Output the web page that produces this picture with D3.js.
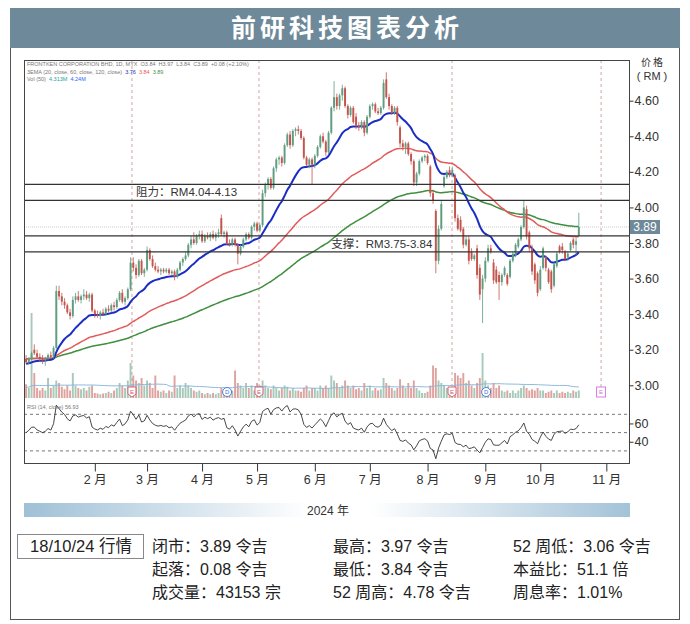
<!DOCTYPE html>
<html>
<head>
<meta charset="utf-8">
<style>
  body { margin: 0; background: #fff; }
  svg text { font-family: "Liberation Sans", "Noto Sans CJK SC", sans-serif; }
</style>
</head>
<body>
<div id="chart"></div>
<script src="https://cdn.jsdelivr.net/npm/d3@7"></script>
<script>
// daily bars, [open, high, low, close]
const candles = [
  [3.15,3.17,3.12,3.13],[3.13,3.16,3.12,3.15],[3.15,3.19,3.14,3.18],[3.20,3.23,3.17,3.18],[3.18,3.20,3.15,3.16],
  [3.16,3.18,3.13,3.15],[3.15,3.17,3.12,3.14],[3.14,3.16,3.11,3.15],[3.15,3.18,3.14,3.17],[3.17,3.19,3.15,3.16],
  [3.16,3.22,3.15,3.21],[3.21,3.56,3.20,3.53],[3.53,3.56,3.48,3.50],[3.50,3.52,3.45,3.47],[3.47,3.49,3.43,3.45],
  [3.45,3.46,3.40,3.41],[3.41,3.43,3.37,3.39],[3.39,3.50,3.38,3.48],[3.48,3.52,3.46,3.50],[3.50,3.53,3.47,3.48],
  [3.48,3.51,3.46,3.50],[3.50,3.54,3.48,3.51],[3.51,3.53,3.48,3.49],[3.49,3.52,3.47,3.51],[3.51,3.52,3.41,3.42],
  [3.42,3.43,3.38,3.40],[3.40,3.42,3.38,3.39],[3.39,3.42,3.37,3.41],[3.41,3.43,3.39,3.40],[3.40,3.44,3.39,3.43],
  [3.43,3.45,3.41,3.42],[3.42,3.46,3.41,3.45],[3.45,3.47,3.42,3.44],[3.44,3.49,3.43,3.48],[3.48,3.53,3.47,3.52],
  [3.52,3.54,3.46,3.47],[3.47,3.50,3.45,3.49],[3.49,3.55,3.48,3.54],[3.54,3.72,3.53,3.69],[3.69,3.72,3.64,3.66],
  [3.66,3.68,3.60,3.62],[3.62,3.71,3.61,3.70],[3.70,3.71,3.62,3.63],[3.63,3.66,3.61,3.65],[3.65,3.78,3.64,3.76],
  [3.76,3.77,3.70,3.71],[3.71,3.73,3.66,3.67],[3.67,3.69,3.64,3.65],[3.65,3.67,3.63,3.64],[3.64,3.66,3.62,3.65],
  [3.65,3.66,3.63,3.64],[3.64,3.66,3.63,3.65],[3.65,3.66,3.62,3.63],[3.63,3.65,3.62,3.64],[3.64,3.65,3.59,3.61],
  [3.61,3.66,3.60,3.65],[3.65,3.70,3.64,3.69],[3.69,3.72,3.67,3.71],[3.71,3.75,3.70,3.73],[3.73,3.80,3.72,3.79],
  [3.79,3.84,3.77,3.82],[3.82,3.86,3.79,3.80],[3.80,3.85,3.79,3.84],[3.84,3.87,3.82,3.85],[3.85,3.87,3.80,3.81],
  [3.81,3.85,3.80,3.84],[3.84,3.86,3.82,3.83],[3.83,3.86,3.81,3.85],[3.85,3.87,3.82,3.83],[3.83,3.86,3.81,3.85],
  [3.85,3.88,3.83,3.86],[3.94,3.96,3.84,3.85],[3.85,3.87,3.83,3.86],[3.86,3.87,3.79,3.80],[3.80,3.82,3.78,3.79],
  [3.79,3.83,3.78,3.82],[3.82,3.83,3.78,3.79],[3.79,3.80,3.68,3.74],[3.74,3.79,3.73,3.78],[3.78,3.83,3.77,3.82],
  [3.82,3.86,3.81,3.85],[3.85,3.86,3.82,3.83],[3.83,3.90,3.82,3.89],[3.89,3.92,3.87,3.91],[3.91,3.92,3.86,3.87],
  [3.87,3.91,3.86,3.90],[3.90,4.10,3.89,4.08],[4.08,4.14,4.06,4.13],[4.13,4.17,4.10,4.16],[4.16,4.17,4.10,4.11],
  [4.11,4.23,4.10,4.22],[4.22,4.28,4.20,4.27],[4.27,4.29,4.24,4.28],[4.28,4.29,4.23,4.25],[4.25,4.36,4.24,4.35],
  [4.35,4.42,4.34,4.41],[4.41,4.43,4.33,4.35],[4.35,4.44,4.34,4.43],[4.43,4.45,4.40,4.44],[4.44,4.46,4.41,4.43],
  [4.43,4.44,4.38,4.39],[4.39,4.40,4.27,4.28],[4.28,4.29,4.23,4.24],[4.24,4.28,4.22,4.27],[4.27,4.28,4.13,4.24],
  [4.24,4.30,4.22,4.29],[4.29,4.35,4.28,4.34],[4.34,4.41,4.33,4.40],[4.40,4.42,4.36,4.37],[4.37,4.38,4.29,4.31],
  [4.31,4.43,4.30,4.42],[4.42,4.57,4.41,4.56],[4.56,4.71,4.54,4.62],[4.62,4.64,4.55,4.57],[4.57,4.64,4.55,4.63],
  [4.63,4.69,4.60,4.67],[4.67,4.68,4.56,4.57],[4.57,4.58,4.50,4.52],[4.52,4.57,4.51,4.56],[4.56,4.57,4.47,4.48],
  [4.51,4.53,4.44,4.46],[4.46,4.48,4.43,4.45],[4.45,4.49,4.44,4.48],[4.48,4.49,4.40,4.42],[4.42,4.52,4.41,4.51],
  [4.51,4.58,4.50,4.57],[4.57,4.59,4.55,4.58],[4.58,4.59,4.53,4.54],[4.54,4.56,4.52,4.53],[4.53,4.57,4.52,4.56],
  [4.56,4.72,4.55,4.70],[4.72,4.76,4.61,4.62],[4.62,4.64,4.55,4.57],[4.57,4.58,4.52,4.53],[4.53,4.57,4.52,4.56],
  [4.56,4.57,4.46,4.48],[4.45,4.46,4.34,4.36],[4.36,4.38,4.32,4.34],[4.34,4.37,4.30,4.36],[4.36,4.37,4.29,4.30],
  [4.30,4.31,4.24,4.26],[4.26,4.27,4.12,4.14],[4.14,4.20,4.12,4.19],[4.19,4.27,4.18,4.26],[4.26,4.29,4.25,4.28],
  [4.28,4.30,4.26,4.29],[4.29,4.30,4.24,4.25],[4.23,4.24,4.06,4.08],[4.08,4.10,4.02,4.04],[3.98,3.99,3.63,3.70],
  [3.70,3.90,3.68,3.88],[3.88,4.04,3.87,4.02],[4.12,4.18,4.11,4.17],[4.17,4.21,4.16,4.20],[4.21,4.23,4.17,4.18],
  [4.18,4.23,4.17,4.21],[4.18,4.19,3.92,3.94],[3.94,3.96,3.87,3.88],[3.93,3.95,3.86,3.87],[3.88,3.89,3.77,3.79],
  [3.79,3.84,3.78,3.82],[3.82,3.84,3.68,3.70],[3.75,3.77,3.70,3.71],[3.71,3.74,3.70,3.73],[3.77,3.79,3.60,3.62],
  [3.66,3.68,3.48,3.51],[3.54,3.62,3.35,3.60],[3.60,3.72,3.58,3.70],[3.70,3.79,3.69,3.77],[3.77,3.79,3.74,3.75],
  [3.69,3.71,3.57,3.59],[3.65,3.67,3.57,3.58],[3.62,3.64,3.48,3.58],[3.58,3.63,3.56,3.62],[3.62,3.67,3.61,3.66],
  [3.62,3.63,3.56,3.57],[3.61,3.71,3.60,3.70],[3.70,3.75,3.69,3.74],[3.73,3.80,3.72,3.79],[3.78,3.83,3.77,3.82],
  [3.82,3.90,3.81,3.89],[3.89,4.04,3.88,4.00],[3.99,4.01,3.82,3.84],[3.86,3.87,3.75,3.77],[3.77,3.79,3.62,3.64],
  [3.68,3.69,3.57,3.59],[3.63,3.64,3.50,3.52],[3.54,3.67,3.53,3.65],[3.66,3.78,3.65,3.77],[3.72,3.73,3.64,3.66],
  [3.65,3.66,3.57,3.58],[3.64,3.65,3.52,3.54],[3.56,3.69,3.55,3.68],[3.67,3.75,3.66,3.74],[3.78,3.79,3.74,3.75],
  [3.78,3.80,3.74,3.76],[3.75,3.76,3.70,3.71],[3.72,3.75,3.70,3.74],[3.76,3.81,3.75,3.80],[3.82,3.83,3.77,3.79],
  [3.79,3.83,3.73,3.81],[3.84,3.97,3.84,3.89]
]

// volume in millions of shares
const volumes = [
  5.5,4,34,10,4,3,4,3,8,4, 5,7,6,4.5,3.5,5,3,10,5,4, 3.5,4,3,4.5,5,2,1.8,1.5,1.8,2,
  2.5,2,3,4,6,5,4,7,14,9, 7,6,8,5,7,6,4,9,3,2.5, 3,2,3,2.5,9,4,5,4,6,5,
  4,3,2.5,3,2,1.5,2,1.5,2,1.5, 2,4,2,3,3.5,3,11,6,5,4, 6,4,5,3,6,5,7,5,4,3.5,
  5,4,3,4,5,4.5,3,4,3,3, 2.5,4,5,3,4,4,3,5,4,5, 4,9,7,6,4,5,7,5,4,5,
  3.5,4,3,6,4,5,3,4,3,3.5, 8,6,5,4,3,4,7.5,5,4,6, 4,7,4,3,2,2,2.5,5,13,12,
  7,6,5,4,3,4,10,9,8,10, 6,7,5,4,6,8,18,7,5,4, 6,4,5,3,2.5,3,2,3,2,3,
  4,5,4,3,3.5,3,4,3,3,2, 2.5,3,2,3,2,2.5,2,2.5,2,3, 2.5,3
]
// average daily volume before the first bar, used to fill the 50-day window
const volSeed = 4.3

// bar index of each month's first session
const monthStarts = [25, 44, 64, 84, 105, 125, 146, 167, 187, 211]
const monthLabels = ['2 月', '3 月', '4 月', '5 月', '6 月', '7 月', '8 月', '9 月', '10 月', '11 月']
const priceTicks = [3.0, 3.2, 3.4, 3.6, 3.8, 4.0, 4.2, 4.4, 4.6]
const rsiTicks = [40, 60]
const rsiBands = [30, 50, 70]
const earningsBars = [38.5, 84.7, 154.9]
const futureEarningsBar = 209.1
const dividendBars = [73.1, 167.3]
const lastPrice = 3.89

const zones = [
  { label: '阻力：RM4.04-4.13', lo: 4.04, hi: 4.13, at: 40 },
  { label: '支撑：RM3.75-3.84', lo: 3.75, hi: 3.84, at: 111 }
]

const emaPeriods = [20, 60, 120]
const emaSeeds = [3.12, 3.15, 3.15]
const emaColors = ['#1b2ec4', '#e25b5b', '#3f8f3f']

const legendLines = [
  [{ t: 'FRONTKEN CORPORATION BHD, 1D, MYX  O3.84  H3.97  L3.84  C3.89  +0.08 (+2.10%)', c: '#777' }],
  [{ t: '3EMA (20, close, 60, close, 120, close)  ', c: '#777' }, { t: '3.76  ', c: '#1b2ec4' },
   { t: '3.84  ', c: '#e25b5b' }, { t: '3.89', c: '#3f8f3f' }],
  [{ t: 'Vol (50)  ', c: '#777' }, { t: '4.313M  ', c: '#26a69a' }, { t: '4.24M', c: '#2962ff' }]
]
const rsiLegend = 'RSI (14, close)  56.93'

const statsDate = '18/10/24 行情'
const statsCols = [
  ['闭市：3.89 令吉', '起落：0.08 令吉', '成交量：43153 宗'],
  ['最高：3.97 令吉', '最低：3.84 令吉', '52 周高：4.78 令吉'],
  ['52 周低：3.06 令吉', '本益比：51.1 倍', '周息率：1.01%']
]

const width = 690
const height = 624
const plot = { left: 24, right: 629, top: 60, bottom: 463 }
const up = '#5e9d80'
const down = '#c4554e'

const svg = d3
  .select('#chart')
  .append('svg')
  .attr('width', width)
  .attr('height', height)

// outer frame and title bar
svg.append('rect')
  .attr('x', 10.5).attr('y', 8.5).attr('width', 669).attr('height', 611)
  .attr('fill', '#fff').attr('stroke', '#555')
svg.append('rect')
  .attr('x', 10).attr('y', 8).attr('width', 670).attr('height', 40)
  .attr('fill', '#6e8999')
svg.append('text')
  .attr('x', 347).attr('y', 37)
  .attr('text-anchor', 'middle')
  .attr('fill', '#fff')
  .attr('font-size', 25)
  .attr('font-weight', 700)
  .attr('letter-spacing', 4)
  .style('font-family', '"Noto Sans CJK SC", sans-serif')
  .text('前研科技图表分析')

// scales
const xScale = d3.scaleLinear().domain([-0.75, 219.25]).range([plot.left, plot.right])
const yScale = d3.scaleLinear().domain([3.0, 4.6]).range([385.3, 100.7])
const volScale = d3.scaleLinear().domain([0, 10]).range([398, 373])
const rsiScale = d3.scaleLinear().domain([50, 70]).range([432.6, 414.3])
const step = xScale(1) - xScale(0)

const defs = svg.append('defs')
defs.append('clipPath').attr('id', 'clip-price')
  .append('rect').attr('x', plot.left).attr('y', plot.top)
  .attr('width', plot.right - plot.left).attr('height', 340)
defs.append('clipPath').attr('id', 'clip-rsi')
  .append('rect').attr('x', plot.left).attr('y', 402)
  .attr('width', plot.right - plot.left).attr('height', plot.bottom - 402)

const bars = candles.map((d, i) => ({ i, o: d[0], h: d[1], l: d[2], c: d[3], v: volumes[i] }))

// indicators from the closes
const emas = emaPeriods.map((p, k) => {
  const a = 2 / (p + 1)
  let e = emaSeeds[k]
  return bars.map(b => (e = e + a * (b.c - e)))
})
const volMa = bars.map((b, i) => {
  const win = volumes.slice(Math.max(0, i - 49), i + 1)
  return (d3.sum(win) + volSeed * (50 - win.length)) / 50
})
let avgGain = 0.015
let avgLoss = 0.015
const rsi = bars.map((b, i) => {
  if (i > 0) {
    const ch = b.c - bars[i - 1].c
    avgGain = (avgGain * 13 + Math.max(ch, 0)) / 14
    avgLoss = (avgLoss * 13 + Math.max(-ch, 0)) / 14
  }
  return 100 - 100 / (1 + avgGain / avgLoss)
})

const price = svg.append('g').attr('clip-path', 'url(#clip-price)')

// last price line
price.append('line')
  .attr('x1', plot.left).attr('x2', plot.right)
  .attr('y1', yScale(lastPrice)).attr('y2', yScale(lastPrice))
  .attr('stroke', '#ccc').attr('stroke-dasharray', '1,1')

// earnings dashed lines
earningsBars.concat([futureEarningsBar]).forEach(b => {
  price.append('line')
    .attr('x1', xScale(b)).attr('x2', xScale(b))
    .attr('y1', plot.top).attr('y2', 387)
    .attr('stroke', '#d9a3a3').attr('stroke-dasharray', '3,3')
})

// volume
price.selectAll('.vol')
  .data(bars)
  .enter()
  .append('rect')
  .attr('class', 'vol')
  .attr('x', d => xScale(d.i) - step * 0.35)
  .attr('width', step * 0.7)
  .attr('y', d => volScale(d.v))
  .attr('height', d => volScale(0) - volScale(d.v))
  .attr('fill', d => (d.c >= d.o ? up : down))
  .attr('opacity', 0.55)

price.append('path')
  .datum(volMa)
  .attr('fill', 'none')
  .attr('stroke', '#8fb9dc')
  .attr('stroke-width', 1)
  .attr('d', d3.line().x((d, i) => xScale(i)).y(d => volScale(d)))

// EMAs under the candles
emas.slice().reverse().forEach((series, k) => {
  const idx = emas.length - 1 - k
  price.append('path')
    .datum(series)
    .attr('fill', 'none')
    .attr('stroke', emaColors[idx])
    .attr('stroke-width', idx === 0 ? 2 : 1.5)
    .attr('d', d3.line().curve(d3.curveMonotoneX).x((d, i) => xScale(i)).y(d => yScale(d)))
})

// candles
const candle = price.selectAll('.candle')
  .data(bars)
  .enter()
  .append('g')
  .attr('class', 'candle')
candle.append('line')
  .attr('x1', d => xScale(d.i)).attr('x2', d => xScale(d.i))
  .attr('y1', d => yScale(d.h)).attr('y2', d => yScale(d.l))
  .attr('stroke', d => (d.c >= d.o ? up : down))
  .attr('stroke-width', 0.8)
candle.append('rect')
  .attr('x', d => xScale(d.i) - step * 0.35)
  .attr('width', step * 0.7)
  .attr('y', d => yScale(Math.max(d.o, d.c)))
  .attr('height', d => Math.max(1, Math.abs(yScale(d.o) - yScale(d.c))))
  .attr('fill', d => (d.c >= d.o ? up : down))

// support / resistance zones
zones.forEach(z => {
  [z.lo, z.hi].forEach(v => {
    svg.append('line')
      .attr('x1', plot.left).attr('x2', plot.right)
      .attr('y1', yScale(v)).attr('y2', yScale(v))
      .attr('stroke', '#333').attr('stroke-width', 1.3)
  })
  svg.append('text')
    .attr('x', xScale(z.at))
    .attr('y', (yScale(z.lo) + yScale(z.hi)) / 2 + 4)
    .attr('font-size', 11.5)
    .attr('fill', '#333')
    .text(z.label)
})

// event markers
earningsBars.forEach(b => {
  const g = svg.append('g').attr('transform', 'translate(' + xScale(b) + ',392)')
  g.append('path')
    .attr('d', 'M-4,-5 H4 V2 L0,5 L-4,2 Z')
    .attr('fill', '#fff').attr('stroke', '#d0566b').attr('stroke-width', 0.9)
  g.append('text').attr('y', 2).attr('text-anchor', 'middle')
    .attr('font-size', 6).attr('fill', '#d0566b').text('E')
})
dividendBars.forEach(b => {
  const g = svg.append('g').attr('transform', 'translate(' + xScale(b) + ',392)')
  g.append('circle').attr('r', 4.5)
    .attr('fill', '#fff').attr('stroke', '#3d6fd6').attr('stroke-width', 0.9)
  g.append('text').attr('y', 2).attr('text-anchor', 'middle')
    .attr('font-size', 6).attr('fill', '#3d6fd6').text('D')
})
{
  const g = svg.append('g').attr('transform', 'translate(' + xScale(futureEarningsBar) + ',392)')
  g.append('rect').attr('x', -4.5).attr('y', -5).attr('width', 9).attr('height', 10)
    .attr('fill', '#fff').attr('stroke', '#d36fd6').attr('stroke-width', 0.9)
  g.append('text').attr('y', 2).attr('text-anchor', 'middle')
    .attr('font-size', 6).attr('fill', '#d36fd6').text('E')
}

// RSI pane
const rsiG = svg.append('g')
rsiBands.forEach(v => {
  rsiG.append('line')
    .attr('x1', plot.left).attr('x2', plot.right)
    .attr('y1', rsiScale(v)).attr('y2', rsiScale(v))
    .attr('stroke', '#777').attr('stroke-dasharray', '3,3')
})
rsiG.append('path')
  .datum(rsi)
  .attr('clip-path', 'url(#clip-rsi)')
  .attr('fill', 'none')
  .attr('stroke', '#333')
  .attr('stroke-width', 0.9)
  .attr('d', d3.line().x((d, i) => xScale(i)).y(d => rsiScale(d)))
rsiG.append('text')
  .attr('x', plot.left + 3).attr('y', 409)
  .attr('font-size', 5.5).attr('fill', '#777')
  .text(rsiLegend)

// legend
legendLines.forEach((parts, k) => {
  const t = svg.append('text')
    .attr('x', plot.left + 3).attr('y', 66 + k * 7.5)
    .attr('font-size', 5.5)
    .attr('xml:space', 'preserve')
  parts.forEach(p => t.append('tspan').attr('fill', p.c).text(p.t))
})

// plot frame
svg.append('rect')
  .attr('x', plot.left + 0.5).attr('y', plot.top + 0.5)
  .attr('width', plot.right - plot.left).attr('height', plot.bottom - plot.top)
  .attr('fill', 'none').attr('stroke', '#444')

// axes
const yAxis = d3.axisRight(yScale).tickValues(priceTicks).tickFormat(d3.format('.2f')).tickSize(4).tickPadding(1)
svg.append('g')
  .attr('class', 'axis y-axis')
  .attr('transform', 'translate(' + (plot.right + 0.5) + ',0)')
  .call(yAxis)

const rsiAxis = d3.axisRight(rsiScale).tickValues(rsiTicks).tickSize(4).tickPadding(1)
svg.append('g')
  .attr('class', 'axis rsi-axis')
  .attr('transform', 'translate(' + (plot.right + 0.5) + ',0)')
  .call(rsiAxis)

const xAxis = d3.axisBottom(xScale).tickValues(monthStarts).tickFormat((d, i) => monthLabels[i]).tickSize(8).tickPadding(4)
svg.append('g')
  .attr('class', 'axis x-axis')
  .attr('transform', 'translate(0,' + (plot.bottom + 0.5) + ')')
  .call(xAxis)

svg.selectAll('.axis .domain').remove()
svg.selectAll('.axis line').attr('stroke', '#333')
svg.selectAll('.axis text')
  .attr('fill', '#333')
  .attr('font-size', 12.5)
  .style('font-family', '"Liberation Sans", "Noto Sans CJK SC", sans-serif')

// last price tag
svg.append('rect')
  .attr('x', 630).attr('y', yScale(lastPrice) - 7)
  .attr('width', 30).attr('height', 14)
  .attr('fill', '#6e8999')
svg.append('text')
  .attr('x', 645).attr('y', yScale(lastPrice) + 4.5)
  .attr('text-anchor', 'middle')
  .attr('font-size', 12).attr('fill', '#fff')
  .text(lastPrice.toFixed(2))

svg.append('text')
  .attr('x', 653).attr('y', 66).attr('text-anchor', 'middle')
  .attr('font-size', 10).attr('fill', '#333').attr('letter-spacing', 2)
  .text('价格')
svg.append('text')
  .attr('x', 652).attr('y', 80).attr('text-anchor', 'middle')
  .attr('font-size', 11).attr('fill', '#333')
  .text('( RM )')

// year band
const grad = defs.append('linearGradient').attr('id', 'year-grad')
grad.append('stop').attr('offset', '0%').attr('stop-color', '#9fc0d6')
grad.append('stop').attr('offset', '47%').attr('stop-color', '#ffffff')
grad.append('stop').attr('offset', '57%').attr('stop-color', '#ffffff')
grad.append('stop').attr('offset', '100%').attr('stop-color', '#a3c3d8')
svg.append('rect')
  .attr('x', plot.left).attr('y', 503)
  .attr('width', plot.right - plot.left + 1).attr('height', 14)
  .attr('fill', 'url(#year-grad)')
svg.append('text')
  .attr('x', 328).attr('y', 514.5).attr('text-anchor', 'middle')
  .attr('font-size', 12).attr('fill', '#333')
  .text('2024 年')

// stats table
svg.append('rect')
  .attr('x', 17.5).attr('y', 534.5).attr('width', 126).attr('height', 24)
  .attr('fill', '#fff').attr('stroke', '#888')
svg.append('text')
  .attr('x', 81).attr('y', 552).attr('text-anchor', 'middle')
  .attr('font-size', 16.5).attr('fill', '#222')
  .text(statsDate)

const colX = [152, 333, 513]
statsCols.forEach((col, c) => {
  col.forEach((t, r) => {
    svg.append('text')
      .attr('x', colX[c]).attr('y', 552 + r * 23)
      .attr('font-size', 16).attr('fill', '#222')
      .text(t)
  })
})
</script>
</body>
</html>
